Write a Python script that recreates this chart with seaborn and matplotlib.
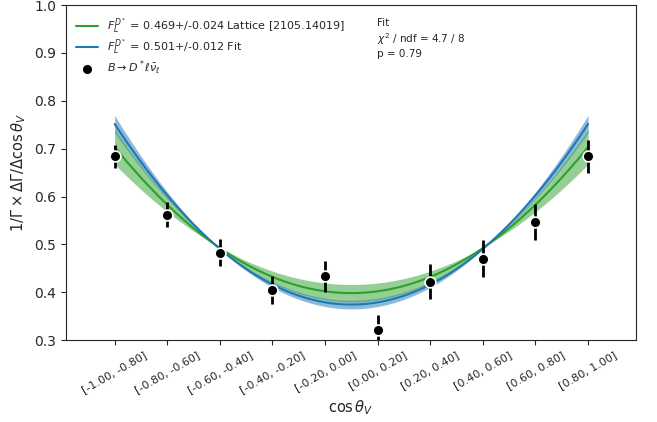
import numpy as np
import matplotlib
matplotlib.use('Agg')
import matplotlib.pyplot as plt
import seaborn as sns

# bins of cos(theta_V) and measured normalised yields
bin_labels = ['[-1.00, -0.80]', '[-0.80, -0.60]', '[-0.60, -0.40]', '[-0.40, -0.20]',
              '[-0.20, 0.00]', '[0.00, 0.20]', '[0.20, 0.40]', '[0.40, 0.60]',
              '[0.60, 0.80]', '[0.80, 1.00]']
data_vals = [0.684, 0.562, 0.483, 0.405, 0.433, 0.321, 0.422, 0.470, 0.547, 0.684]
data_errs = [0.024, 0.026, 0.029, 0.030, 0.033, 0.031, 0.037, 0.039, 0.038, 0.034]

# longitudinal polarisation fractions (value, error)
fl_lattice = [0.469, 0.024]
fl_fit = [0.501, 0.012]
fit_text = ['Fit', r'$\chi^2$ / ndf = 4.7 / 8', 'p = 0.79']


def dist(fl, c):
    # normalised angular distribution 1/G dG/dcos
    return 1.5 * fl * c**2 + 0.75 * (1 - fl) * (1 - c**2)


sns.set_style('ticks')
fig = plt.figure(figsize=(6.57, 4.22), dpi=100)
ax = fig.add_axes([0.100, 0.194, 0.868, 0.794])

idx = np.arange(len(bin_labels))
cos_vals = np.linspace(-1, 1, 300)
x_curve = np.linspace(idx[0], idx[-1], 300)

green = '#2ca02c'
blue = '#1f77b4'

ax.fill_between(x_curve, dist(fl_fit[0] - fl_fit[1], cos_vals),
                dist(fl_fit[0] + fl_fit[1], cos_vals), color=blue, alpha=0.5, lw=0)
ax.fill_between(x_curve, dist(fl_lattice[0] - fl_lattice[1], cos_vals),
                dist(fl_lattice[0] + fl_lattice[1], cos_vals), color=green, alpha=0.5, lw=0)
sns.lineplot(x=x_curve, y=dist(fl_lattice[0], cos_vals), color=green, lw=1.5, ax=ax,
             label=r'$F_L^{D^*}$ = %.3f+/-%.3f Lattice [2105.14019]' % tuple(fl_lattice))
sns.lineplot(x=x_curve, y=dist(fl_fit[0], cos_vals), color=blue, lw=1.5, ax=ax,
             label=r'$F_L^{D^*}$ = %.3f+/-%.3f Fit' % tuple(fl_fit))

ax.errorbar(idx, data_vals, yerr=data_errs, fmt='none', ecolor='black', elinewidth=2, zorder=4)
sns.scatterplot(x=idx, y=data_vals, color='black', s=60, edgecolor='white', linewidth=1.2,
                zorder=5, ax=ax, label=r'$B \to D^* \ell \bar{\nu}_\ell$')

ax.set_xlim(-0.93, 9.91)
ax.set_ylim(0.3, 1.0)
ax.set_xticks(idx)
ax.set_xticklabels(bin_labels, rotation=30, ha='center', fontsize=8)
ax.tick_params(axis='y', labelsize=10)
ax.set_xlabel(r'$\cos\theta_V$', fontsize=10.5, labelpad=2)
ax.set_ylabel(r'$1/\Gamma \times \Delta\Gamma/\Delta\cos\theta_V$', fontsize=10.5)

ax.legend(loc='upper left', frameon=False, fontsize=8, labelspacing=0.25,
          bbox_to_anchor=(0.0, 0.995))
ax.text(0.545, 0.962, '\n'.join(fit_text), transform=ax.transAxes, fontsize=7.5,
        va='top', ha='left', linespacing=1.25)

fig.savefig('out.png', dpi=100)
